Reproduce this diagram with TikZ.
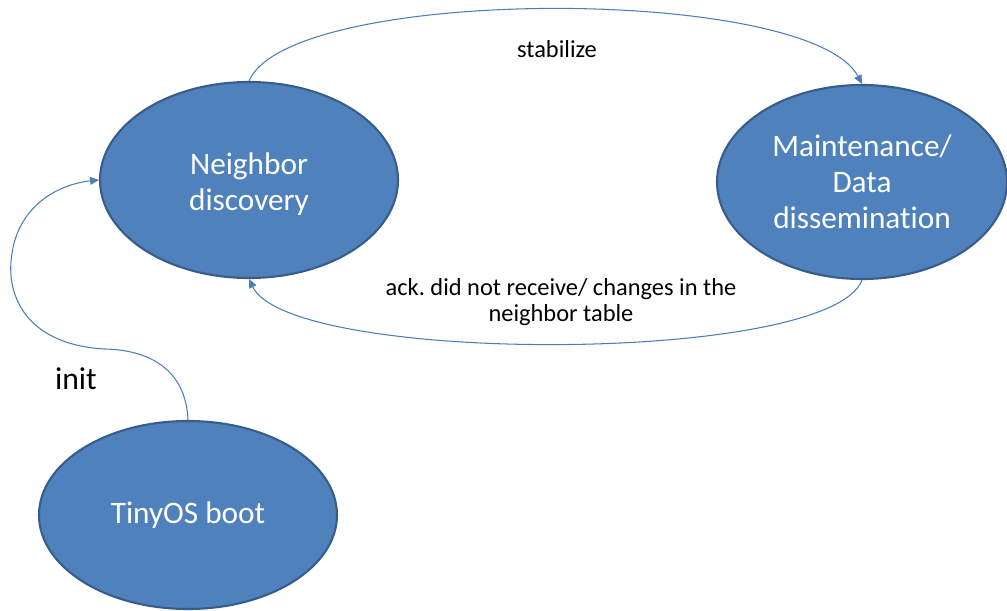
\documentclass[tikz,border=0pt]{standalone}
\usepackage{fontspec}
\setmainfont{Carlito}[Ligatures=NoCommon]
\usetikzlibrary{shapes.geometric,arrows.meta}
\definecolor{nodefill}{HTML}{4F81BD}
\definecolor{nodeline}{HTML}{385D8A}
\definecolor{arrowcol}{HTML}{4A7EBB}
\frenchspacing
\tikzset{
  state/.style={ellipse, draw=nodeline, fill=nodefill, line width=1.2pt, inner sep=0pt,
    text=white, align=center, font=\fontsize{17.8pt}{20.4pt}\selectfont},
  trans/.style={draw=arrowcol, line width=0.6pt, -{Triangle[length=5pt,width=4.5pt]}},
  lbl/.style={text=black, align=center, inner sep=0pt}
}
\begin{document}
\begin{tikzpicture}[x=0.02cm,y=-0.02cm]
\useasboundingbox (0,0) rectangle (1007,611);
\node[state, minimum width=298*0.02cm, minimum height=196*0.02cm, text height=1.32cm, text depth=0.1cm] (nd) at (249,180) {Neighbor\\discovery};
\node[state, minimum width=290*0.02cm, minimum height=194*0.02cm] (md) at (862,182) {Maintenance/\\Data\\dissemination};
\node[state, minimum width=298*0.02cm, minimum height=188*0.02cm] (tb) at (188,515) {TinyOS boot};
\node[lbl, font=\fontsize{13.9pt}{14.7pt}\selectfont] (ls) at (557,49) {stabilize};
\node[lbl, font=\fontsize{13.9pt}{14.7pt}\selectfont] (la) at (561,302) {ack. did not receive/ changes in the\\neighbor table};
\node[lbl, font=\fontsize{18pt}{20pt}\selectfont] (li) at (76,379) {init};
\draw[trans] (nd.north) .. controls (290,-15) and (810,-15) .. (md.north);
\draw[trans] (md.south) .. controls (830,365) and (290,365) .. (nd.south);
\draw[trans] (tb.north) .. controls (186,370) and (150,350) .. (105,349)
  .. controls (30,345) and (8,300) .. (11,262)
  .. controls (15,205) and (60,184) .. (nd.west);
\end{tikzpicture}
\end{document}
